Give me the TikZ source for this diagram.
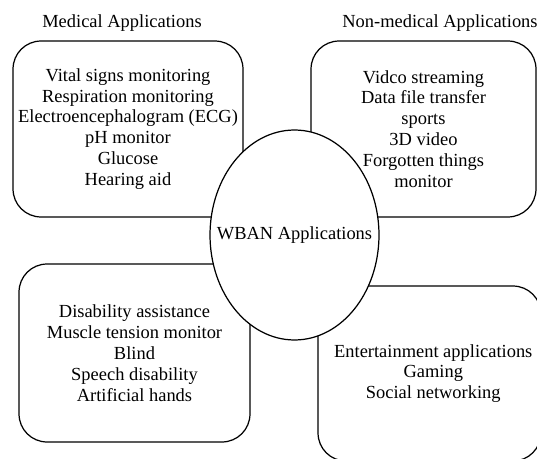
\documentclass[tikz,border=0pt]{standalone}
\usepackage{fontspec}
\setmainfont{Liberation Serif}
\usetikzlibrary{shapes.geometric}

\begin{document}
\begin{tikzpicture}[x=0.02cm, y=-0.02cm,
  appbox/.style={draw, line width=0.7pt, rounded corners=0.56cm, align=center,
    font=\fontsize{10.5}{11.9}\selectfont, inner sep=0pt},
  heading/.style={font=\fontsize{10.5}{12}\selectfont}]
\useasboundingbox (0,0) rectangle (537,459);
\clip (0,0) rectangle (537,459);

% Headings
\node (medtitle) [heading] at (122,23) {Medical Applications};
\node (nonmedtitle) [heading] at (440,23) {Non-medical Applications};

% Four application groups
\node (med) [appbox, minimum width=4.6cm, minimum height=3.52cm] at (128,129)
  {Vital signs monitoring\\Respiration monitoring\\Electroencephalogram (ECG)\\pH monitor\\Glucose\\Hearing aid};
\node (nonmed) [appbox, minimum width=4.5cm, minimum height=3.52cm] at (423.5,129)
  {Vidco streaming\\Data file transfer\\sports\\3D video\\Forgotten things\\monitor};
\node (assist) [appbox, minimum width=4.62cm, minimum height=3.56cm] at (134.5,353)
  {Disability assistance\\Muscle tension monitor\\Blind\\Speech disability\\Artificial hands};
\node (ent) [appbox, minimum width=4.46cm, minimum height=3.5cm] at (429.5,373.5)
  {\hspace*{0.15cm}Entertainment applications\\\hspace*{0.15cm}Gaming\\\hspace*{0.15cm}Social networking};

% Centre
\node (wban) [ellipse, draw, line width=0.7pt, fill=white, inner sep=0pt,
  minimum width=3.38cm, minimum height=4.2cm,
  label={[heading]center:WBAN Applications}] at (294.5,235) {};
\end{tikzpicture}
\end{document}
